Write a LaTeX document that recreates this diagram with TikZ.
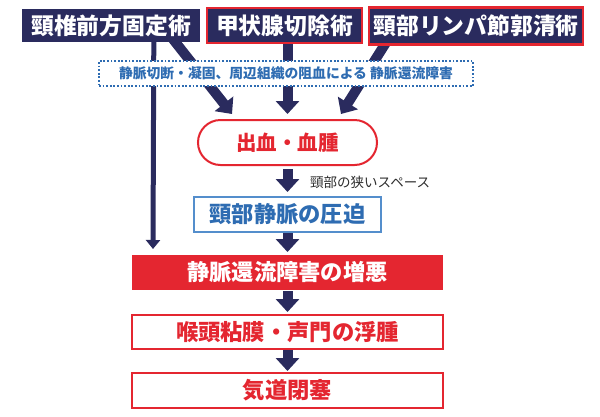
\documentclass[tikz,border=0pt]{standalone}
\usepackage{fontspec}
\setmainfont{Noto Sans CJK JP}[BoldFont={Noto Sans CJK JP Black}]
\usetikzlibrary{arrows.meta}
\definecolor{navy}{RGB}{42,43,94}
\definecolor{jred}{RGB}{228,38,48}
\definecolor{jblue}{RGB}{46,108,178}
\definecolor{lblue}{RGB}{84,142,204}
\definecolor{dgray}{RGB}{45,45,45}
\pgfdeclarelayer{bg}
\pgfdeclarelayer{paper}
\pgfsetlayers{paper,bg,main}
\tikzset{
  topbox/.style={fill=navy, text=white, font=\fontsize{22.8}{24}\selectfont\bfseries, inner sep=0pt},
  redrim/.style={draw=jred, line width=2.6pt},
  flowbox/.style={minimum width=311pt, minimum height=35pt, inner sep=0pt, line width=2pt, font=\fontsize{22.3}{24}\selectfont\bfseries},
  bigarrow/.style={draw=navy, line width=10pt, -{Triangle[width=23pt,length=13pt]}},
  thinarrow/.style={draw=navy, line width=5pt, -{Triangle[width=14pt,length=9pt]}},
}
\begin{document}
\begin{tikzpicture}[x=1pt,y=-1pt]
\begin{pgfonlayer}{paper}
\fill[white] (0,0) rectangle (600,416);
\end{pgfonlayer}
\useasboundingbox (0,0) rectangle (600,416);
% top boxes
\node[topbox, minimum width=178pt, minimum height=33pt] (b1) at (111,25.5) {頸椎前方固定術};
\node[topbox, redrim, minimum width=155pt, minimum height=35pt] (b2) at (284.5,25.5) {甲状腺切除術};
\node[topbox, redrim, minimum width=214pt, minimum height=37pt] (b3) at (476,26) {頸部リンパ節郭清術};
% hematoma
\node[draw=jred, line width=2pt, rounded corners=22.5pt, minimum width=179pt, minimum height=45pt, inner sep=0pt, text=jred, font=\fontsize{20.5}{22}\selectfont\bfseries] (ell) at (287.5,142.5) {出血・血腫};
\node[anchor=west, inner sep=0pt, text=dgray, font=\fontsize{13.5}{15}\selectfont] (lab) at (310,182) {頸部の狭いスペース};
\node[draw=lblue, line width=2pt, minimum width=187pt, minimum height=35pt, inner sep=0pt, text=jblue, font=\fontsize{22.3}{24}\selectfont\bfseries] (vb) at (287.5,214.5) {頸部静脈の圧迫};
\node[flowbox, fill=jred, text=white] (rb) at (287.5,272.5) {静脈還流障害の増悪};
\node[flowbox, draw=jred, text=jred, minimum height=34pt] (e1) at (287.5,332) {喉頭粘膜・声門の浮腫};
\node[flowbox, draw=jred, text=jred] (e2) at (287.5,390.5) {気道閉塞};
% connector end points
\coordinate (d1s) at ([xshift=-28.75pt,yshift=5pt]b1.south east);
\coordinate (d1e) at ([xshift=35pt,yshift=5pt]ell.north west);
\coordinate (d3s) at ([xshift=21pt,yshift=7.5pt]b3.south west);
\coordinate (d3e) at ([xshift=-37pt,yshift=5pt]ell.north east);
\coordinate (Ls) at ([xshift=132pt]b1.south west);
\coordinate (Le) at ([xshift=22pt,yshift=5pt]rb.north west);
\begin{pgfonlayer}{bg}
\draw[bigarrow] (d1s) -- (d1e);
\draw[bigarrow] (d3s) -- (d3e);
\draw[bigarrow, shorten >=5pt] (ell.north |- b2.south) -- (ell.north);
\draw[thinarrow] (Ls) -- (Le);
\draw[bigarrow, shorten <=3pt, shorten >=4pt] (ell.south) -- (vb.north);
\draw[bigarrow, shorten >=2pt] (vb.south) -- (rb.north);
\draw[bigarrow, shorten >=2pt] (rb.south) -- (e1.north);
\draw[bigarrow, shorten >=1pt] (e1.south) -- (e2.north);
\end{pgfonlayer}
% dotted note box (drawn over the arrows)
\node[draw=jblue, line width=1.8pt, dash pattern=on 1.8pt off 1.8pt, fill=white, minimum width=374pt, minimum height=25pt, inner sep=0pt, text=jblue, font=\fontsize{13.8}{15}\selectfont\bfseries] (note) at (286,73.5) {静脈切断・凝固、周辺組織の阻血による 静脈還流障害};
\end{tikzpicture}
\end{document}
